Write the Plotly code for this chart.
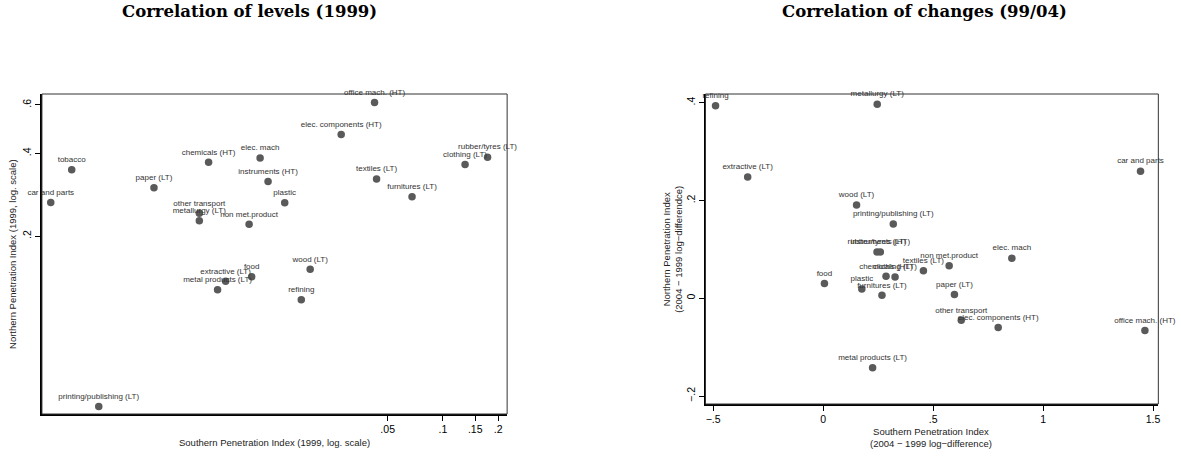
import plotly.graph_objects as go

# ---------------- data: levels (1999) ----------------
sectors_levels = [
    "tobacco", "car and parts", "paper (LT)", "chemicals (HT)", "elec. mach",
    "instruments (HT)", "plastic", "other transport", "metallurgy (LT)",
    "non met.product", "office mach. (HT)", "elec. components (HT)",
    "rubber/tyres (LT)", "clothing (LT)", "textiles (LT)", "furnitures (LT)",
    "food", "extractive (LT)", "metal products (LT)", "printing/publishing (LT)",
    "wood (LT)", "refining",
]
south_1999 = [
    0.000947, 0.000728, 0.00266, 0.00528, 0.01008,
    0.01114, 0.01373, 0.00470, 0.00470,
    0.00878, 0.0424, 0.0279,
    0.1752, 0.1321, 0.0435, 0.0679,
    0.00907, 0.00654, 0.00591, 0.00133,
    0.0189, 0.0169,
]
north_1999 = [
    0.3485, 0.265, 0.2996, 0.3715, 0.385,
    0.316, 0.2645, 0.242, 0.2274,
    0.2207, 0.6126, 0.4686,
    0.3875, 0.3645, 0.323, 0.278,
    0.1422, 0.137, 0.1277, 0.048,
    0.1514, 0.1174,
]

# ---------------- data: changes (99/04) ----------------
sectors_changes = [
    "refining", "metallurgy (LT)", "extractive (LT)", "wood (LT)",
    "printing/publishing (LT)", "rubber/tyres (LT)", "instruments (HT)",
    "chemicals (HT)", "clothing (LT)", "textiles (LT)", "non met.product",
    "food", "plastic", "furnitures (LT)", "metal products (LT)", "elec. mach",
    "paper (LT)", "other transport", "elec. components (HT)",
    "office mach. (HT)", "car and parts",
]
south_change = [
    -0.489, 0.246, -0.343, 0.152,
    0.319, 0.245, 0.260,
    0.286, 0.327, 0.456, 0.573,
    0.006, 0.176, 0.2675, 0.225, 0.858,
    0.597, 0.628, 0.796,
    1.463, 1.443,
]
north_change = [
    0.394, 0.397, 0.248, 0.191,
    0.152, 0.0945, 0.0945,
    0.0449, 0.0435, 0.0565, 0.0667,
    0.030, 0.019, 0.006, -0.142, 0.082,
    0.0075, -0.045, -0.060,
    -0.066, 0.260,
]

left_xticks = [0.05, 0.1, 0.15, 0.2]
left_xticktext = [".05", ".1", ".15", ".2"]
left_yticks = [0.2, 0.4, 0.6]
left_yticktext = [".2", ".4", ".6"]
right_xticks = [-0.5, 0, 0.5, 1, 1.5]
right_xticktext = ["\u2212.5", "0", ".5", "1", "1.5"]
right_yticks = [-0.2, 0, 0.2, 0.4]
right_yticktext = ["\u2212.2", "0", ".2", ".4"]

MARKER = "#5a5a5a"
LABEL = "#333333"
SANS = "Liberation Sans, Arial, sans-serif"
W, H = 1181, 458


def px(x):
    return x / W


def py(y):
    return (H - y) / H


fig = go.Figure()
fig.add_trace(go.Scatter(
    x=south_1999, y=north_1999, text=sectors_levels, mode="markers+text",
    textposition="top center", cliponaxis=False, showlegend=False,
    marker=dict(size=7.5, color=MARKER),
    textfont=dict(size=8, color=LABEL, family=SANS),
    xaxis="x", yaxis="y", hoverinfo="text",
))
fig.add_trace(go.Scatter(
    x=south_change, y=north_change, text=sectors_changes, mode="markers+text",
    textposition="top center", cliponaxis=False, showlegend=False,
    marker=dict(size=7.5, color=MARKER),
    textfont=dict(size=8, color=LABEL, family=SANS),
    xaxis="x2", yaxis="y2", hoverinfo="text",
))

axis_common = dict(
    showgrid=False, zeroline=False, showline=True, linecolor="black",
    linewidth=1.5, ticks="outside", ticklen=5, tickwidth=1, tickcolor="black",
    tickfont=dict(size=10.5, color="black", family=SANS),
)

fig.update_layout(
    width=W, height=H,
    margin=dict(l=0, r=0, t=0, b=0),
    paper_bgcolor="white", plot_bgcolor="white",
    xaxis=dict(type="log", range=[-3.186, -0.6497], domain=[px(42), px(508)],
               anchor="y", tickvals=left_xticks, ticktext=left_xticktext,
               **axis_common),
    yaxis=dict(type="log", range=[-1.346, -0.182],
               domain=[py(414), py(94)], anchor="x",
               tickvals=left_yticks, ticktext=left_yticktext, tickangle=-90,
               **axis_common),
    xaxis2=dict(range=[-0.5347, 1.524], domain=[px(706.7), px(1160.3)],
                anchor="y2", tickvals=right_xticks, ticktext=right_xticktext,
                **axis_common),
    yaxis2=dict(range=[-0.2163, 0.4178],
                domain=[py(404), py(94)], anchor="x2",
                tickvals=right_yticks, ticktext=right_yticktext, tickangle=-90,
                **axis_common),
)

# plot region frames
for xr, yr in (("x domain", "y domain"), ("x2 domain", "y2 domain")):
    fig.add_shape(type="rect", xref=xr, yref=yr, x0=0, x1=1, y0=0, y1=1,
                  line=dict(color="#333333", width=1), layer="above")

TITLE = dict(size=16.5, color="black", family="DejaVu Serif, serif")
AX = dict(size=9.5, color="#222", family=SANS)
annotations = [
    dict(text="<b>Correlation of levels (1999)</b>", x=px(250), y=py(12),
         font=TITLE),
    dict(text="<b>Correlation of changes (99/04)</b>", x=px(926), y=py(12),
         font=TITLE),
    dict(text="Southern Penetration Index (1999, log. scale)", x=px(275),
         y=py(442), font=AX),
    dict(text="Northern Penetration Index (1999, log. scale)", x=px(12),
         y=py(254), textangle=-90, font=AX),
    dict(text="Southern Penetration Index<br>(2004 \u2212 1999 log\u2212difference)",
         x=px(933), y=py(437), font=AX),
    dict(text="Northern Penetration Index<br>(2004 \u2212 1999 log\u2212differendce)",
         x=px(673), y=py(249), textangle=-90, font=AX),
]
for a in annotations:
    fig.add_annotation(xref="paper", yref="paper", showarrow=False,
                       xanchor="center", yanchor="middle", **a)

# remove the browser's default 8px body margin so the 1181x458 figure fills the window
fig.write_html("out.html", config={"displayModeBar": False},
               post_script="document.body.style.margin='0px';")
